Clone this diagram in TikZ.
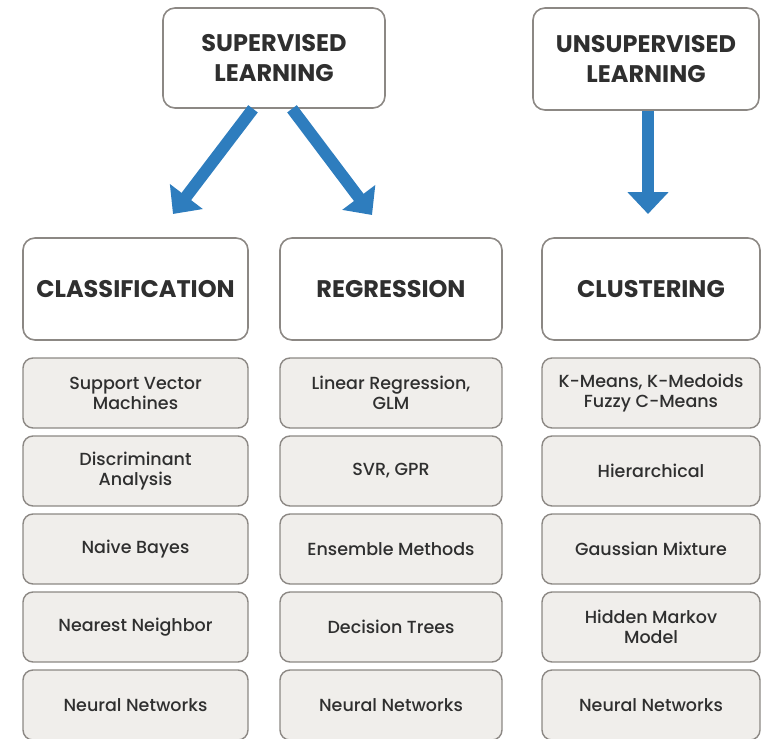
\documentclass[tikz,border=0pt]{standalone}
\usepackage{fontspec}
\setmainfont{Poppins}
\newfontfamily\cellfont{Poppins Medium}
\usetikzlibrary{arrows.meta}
\definecolor{arrowblue}{HTML}{2E7DBE}
\definecolor{boxline}{HTML}{8C8884}
\definecolor{cellfill}{HTML}{F0EEEB}
\definecolor{txt}{HTML}{2F2F2F}
\begin{document}
\begin{tikzpicture}[x=1pt,y=-1pt,
  topbox/.style={draw=boxline, line width=1.6pt, rounded corners=12pt, fill=white,
    minimum height=100pt, align=center, inner sep=0pt, text=txt,
    font=\bfseries\fontsize{24}{30}\selectfont},
  headbox/.style={draw=boxline, line width=1.6pt, rounded corners=12pt, fill=white,
    minimum height=102pt, align=center, inner sep=0pt, text=txt,
    font=\bfseries\fontsize{24}{28}\selectfont},
  cell/.style={draw=boxline, line width=1.4pt, rounded corners=10pt, fill=cellfill,
    minimum height=70pt, align=center, inner sep=0pt, text=txt,
    font=\cellfont\fontsize{17.5}{20}\selectfont},
  bigarrow/.style={draw=arrowblue, line width=12pt,
    -{Triangle[width=40pt,length=22pt]}}]
\useasboundingbox (0,0) rectangle (762,738);
\clip (0,0) rectangle (762,738);

% learning paradigms
\node[topbox, minimum width=222pt] (sup) at (274,58) {SUPERVISED\\LEARNING};
\node[topbox, minimum width=226pt, minimum height=102pt] (unsup) at (646,59) {UNSUPERVISED\\LEARNING};

% task headers
\node[headbox, minimum width=225pt] (cls) at (135.5,289) {CLASSIFICATION};
\node[headbox, minimum width=222pt] (reg) at (391,289) {REGRESSION};
\node[headbox, minimum width=218pt] (clu) at (651,289) {CLUSTERING};

% arrow tips
\coordinate (tipL) at (173,214);
\coordinate (tipR) at (372,215);
\coordinate (tipU) at (648,214);

\draw[bigarrow] (sup.south -| 253,0) -- (tipL);
\draw[bigarrow] (sup.south -| 292,0) -- (tipR);
\draw[bigarrow] (unsup.south -| 648,0) -- (tipU);

% classification methods
\node[cell, minimum width=225pt] (c1) at (135.5,393) {Support Vector\\Machines};
\node[cell, minimum width=225pt] (c2) at (135.5,471) {Discriminant\\Analysis};
\node[cell, minimum width=225pt] (c3) at (135.5,549) {Naive Bayes};
\node[cell, minimum width=225pt] (c4) at (135.5,627) {Nearest Neighbor};
\node[cell, minimum width=225pt] (c5) at (135.5,705) {Neural Networks};

% regression methods
\node[cell, minimum width=222pt] (r1) at (391,393) {Linear Regression,\\GLM};
\node[cell, minimum width=222pt] (r2) at (391,471) {SVR, GPR};
\node[cell, minimum width=222pt] (r3) at (391,549) {Ensemble Methods};
\node[cell, minimum width=222pt] (r4) at (391,627) {Decision Trees};
\node[cell, minimum width=222pt] (r5) at (391,705) {Neural Networks};

% clustering methods
\node[cell, minimum width=218pt] (k1) at (651,393) {K-Means, K-Medoids\\Fuzzy C-Means};
\node[cell, minimum width=218pt] (k2) at (651,471) {Hierarchical};
\node[cell, minimum width=218pt] (k3) at (651,549) {Gaussian Mixture};
\node[cell, minimum width=218pt] (k4) at (651,627) {Hidden Markov\\Model};
\node[cell, minimum width=218pt] (k5) at (651,705) {Neural Networks};
\end{tikzpicture}
\end{document}
